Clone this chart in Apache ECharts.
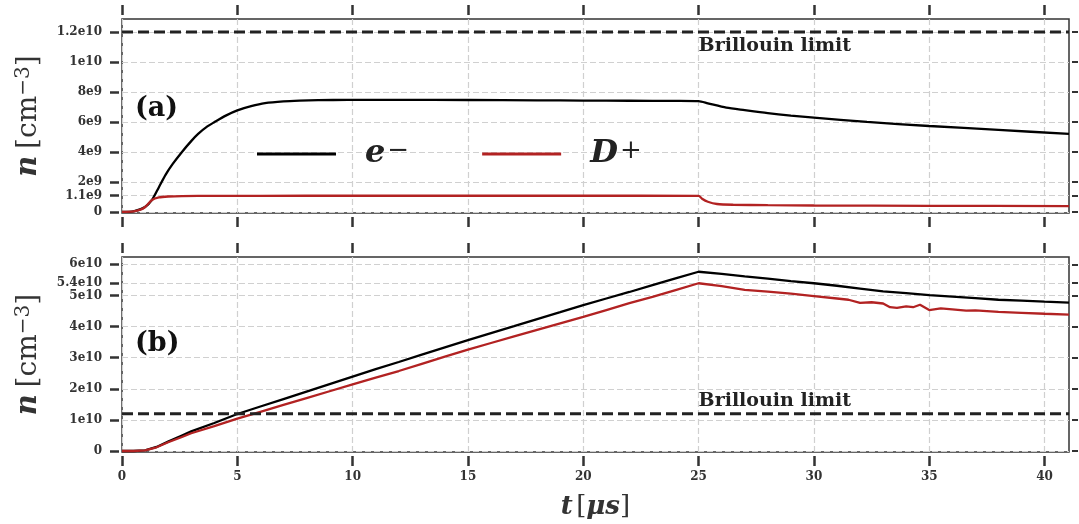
<!DOCTYPE html>
<html>
<head>
<meta charset="utf-8">
<script src="https://cdn.jsdelivr.net/npm/echarts@6/dist/echarts.min.js"></script>
<style>
html, body { margin: 0; padding: 0; background: #fff; }
#main { width: 1079px; height: 524px; }
</style>
</head>
<body>
<div id="main"></div>
<script>
// time axis [us]
var xTicks = [0, 5, 10, 15, 20, 25, 30, 35, 40];
var xMax = 41.06;

// panel (a) densities, unit 1e9 cm^-3
var aTickVals = [0, 1.1, 2, 4, 6, 8, 10, 12];
var aTickLabels = ["0", "1.1e9", "2e9", "4e9", "6e9", "8e9", "1e10", "1.2e10"];
var aBrillouin = 12;
var aElecTime = [0, 0.5, 1.0, 1.3, 1.6, 1.9, 2.2, 2.6, 3.0, 3.3, 3.7, 4.0, 4.5, 5.0, 5.6, 6.2, 7.0, 7.7, 8.5, 9.8,
  12, 15, 18, 20, 22, 24, 25, 25.4, 26.2, 27, 28, 29, 30, 32.3, 35, 38, 41.06];
var aElec = [0, 0.04, 0.33, 0.8, 1.65, 2.5, 3.2, 4.0, 4.72, 5.2, 5.7, 5.98, 6.42, 6.77, 7.05, 7.25, 7.37, 7.42, 7.45, 7.47,
  7.47, 7.46, 7.44, 7.42, 7.41, 7.4, 7.38, 7.24, 6.95, 6.78, 6.58, 6.42, 6.29, 6.0, 5.73, 5.47, 5.2];
var aIonTime = [0, 0.5, 0.8, 1.0, 1.3, 1.6, 2.0, 2.6, 4, 8, 12, 16, 20, 25, 25.15, 25.4, 25.8, 26.5, 28, 30, 35, 41.06];
var aIon = [0, 0.04, 0.15, 0.33, 0.8, 0.97, 1.03, 1.06, 1.07, 1.08, 1.08, 1.08, 1.08, 1.07, 0.88, 0.68, 0.53, 0.48, 0.45, 0.43, 0.41, 0.39];

// panel (b) densities, unit 1e10 cm^-3
var bTickVals = [0, 1, 2, 3, 4, 5, 5.4, 6];
var bTickLabels = ["0", "1e10", "2e10", "3e10", "4e10", "5e10", "5.4e10", "6e10"];
var bBrillouin = 1.2;
var bElecTime = [0, 0.5, 1, 1.5, 2, 2.6, 3, 4, 5, 6, 7, 8, 9, 10, 11, 12, 13, 14, 15, 16, 17, 18, 19, 20, 21, 22, 23, 24, 25,
  26, 27, 28, 29, 30, 31, 32, 33, 34, 35, 36, 37, 38, 39, 40, 41.06];
var bElec = [0, 0, 0.02, 0.13, 0.3, 0.5, 0.63, 0.9, 1.19, 1.43, 1.67, 1.91, 2.15, 2.39, 2.63, 2.86, 3.1, 3.33, 3.56, 3.79,
  4.01, 4.24, 4.46, 4.69, 4.9, 5.11, 5.33, 5.55, 5.76,
  5.69, 5.61, 5.54, 5.46, 5.39, 5.31, 5.22, 5.13, 5.07, 5.01, 4.96, 4.91, 4.86, 4.83, 4.8, 4.77];
var bIonTime = [0, 0.5, 1, 1.5, 2, 2.6, 3, 4, 5, 6, 7, 8, 9, 10, 11, 12, 13, 14, 15, 16, 17, 18, 19, 20, 21, 22, 23, 24, 25,
  26, 27, 28, 29, 30, 31, 31.5, 32, 32.5, 33, 33.3, 33.6, 34, 34.3, 34.6, 35, 35.5, 36, 36.6, 37, 38, 39, 40, 41.06];
var bIon = [0, 0, 0.02, 0.12, 0.28, 0.45, 0.57, 0.8, 1.04, 1.26, 1.48, 1.7, 1.92, 2.14, 2.36, 2.57, 2.8, 3.03, 3.26, 3.47,
  3.68, 3.89, 4.1, 4.31, 4.53, 4.75, 4.95, 5.17, 5.39,
  5.3, 5.18, 5.12, 5.06, 4.98, 4.9, 4.86, 4.76, 4.78, 4.74, 4.62, 4.6, 4.65, 4.62, 4.7, 4.53, 4.58, 4.55, 4.51, 4.52,
  4.47, 4.44, 4.41, 4.38];

var serif = "DejaVu Serif";
var dark = "#333";
var elecColor = "#000000";
var ionColor = "#b22222";

function pairs(ts, vs) {
  return ts.map(function (t, i) { return [t, vs[i]]; });
}

function xAxisFor(gridIndex, pos, withLabels) {
  return {
    type: "value", gridIndex: gridIndex, position: pos, min: 0, max: xMax, offset: 4,
    axisLine: { show: false, onZero: false },
    axisTick: { show: true, customValues: xTicks, length: 10, lineStyle: { color: dark, width: 2.5 } },
    axisLabel: {
      show: withLabels, customValues: xTicks, margin: 15, color: dark,
      fontFamily: serif, fontWeight: "bold", fontSize: 12
    },
    splitLine: pos === "bottom" ? { show: true, lineStyle: { color: "#d0d0d0", type: [6, 3], width: 1.2 } } : { show: false }
  };
}

var yName = "{n|n}  {b|[cm}{s|−3}{b|]}";
var yNameRich = {
  n: { fontFamily: serif, fontStyle: "italic", fontWeight: "bold", fontSize: 29, color: dark },
  b: { fontFamily: serif, fontSize: 28, color: dark },
  s: { fontFamily: serif, fontSize: 20, color: dark, verticalAlign: "top" }
};

function yAxisFor(gridIndex, min, max, vals, labels) {
  return {
    type: "value", gridIndex: gridIndex, min: min, max: max, offset: 3,
    name: yName, nameLocation: "middle", nameGap: 76, nameRotate: 90,
    nameTextStyle: { rich: yNameRich },
    axisLine: { show: false, onZero: false },
    axisTick: { show: true, customValues: vals, length: 9, lineStyle: { color: dark, width: 2.5 } },
    axisLabel: {
      customValues: vals, margin: 17, color: dark, fontFamily: serif, fontWeight: "bold", fontSize: 12,
      formatter: function (v) {
        var i = vals.indexOf(v);
        return i >= 0 ? labels[i] : "";
      }
    },
    splitLine: { show: false }
  };
}

function yRightFor(gridIndex, min, max, vals) {
  return {
    type: "value", gridIndex: gridIndex, position: "right", min: min, max: max, offset: 3,
    axisLine: { show: false, onZero: false },
    axisTick: { show: true, customValues: vals, length: 6, lineStyle: { color: dark, width: 2 } },
    axisLabel: { show: false },
    splitLine: { show: false }
  };
}

function gridLines(xi, yi, vals) {
  return {
    type: "line", xAxisIndex: xi, yAxisIndex: yi, data: [], silent: true, z: 1,
    markLine: {
      z: 1, silent: true, symbol: "none", animation: false, label: { show: false },
      lineStyle: { color: "#d0d0d0", type: [6, 3], width: 1.2 },
      data: vals.map(function (v) { return { yAxis: v }; })
    }
  };
}

function brillouin(xi, yi, v, labelDy) {
  return {
    type: "line", xAxisIndex: xi, yAxisIndex: yi, z: 5, silent: true,
    data: [[0, v], [xMax, v]], showSymbol: false,
    lineStyle: { color: "#222", width: 3, type: [11, 5] },
    markPoint: {
      symbol: "circle", symbolSize: 0, silent: true,
      label: {
        show: true, position: "right", distance: 0, offset: [0, labelDy],
        formatter: "Brillouin limit", fontFamily: serif, fontWeight: "bold", fontSize: 19, color: "#222"
      },
      data: [{ coord: [25, v] }]
    }
  };
}

function dataLine(name, xi, yi, ts, vs, color, smooth) {
  return {
    name: name, type: "line", xAxisIndex: xi, yAxisIndex: yi, z: 3,
    data: pairs(ts, vs), showSymbol: false,
    smooth: smooth,
    itemStyle: { color: color },
    lineStyle: { color: color, width: 2.3 }
  };
}

var legendRich = {
  g: { width: 24 },
  i: { fontFamily: serif, fontStyle: "italic", fontWeight: "bold", fontSize: 32, color: "#222" },
  s: { fontFamily: serif, fontSize: 26, color: "#222", verticalAlign: "top", padding: [0, 0, 0, 2] }
};

var option = {
  animation: false,
  backgroundColor: "#fff",
  title: [
    { text: "(a)", left: 135, top: 95, padding: 0,
      textStyle: { fontFamily: serif, fontWeight: "bold", fontSize: 27, color: "#111" } },
    { text: "(b)", left: 135, top: 330, padding: 0,
      textStyle: { fontFamily: serif, fontWeight: "bold", fontSize: 27, color: "#111" } }
  ],
  legend: {
    data: ["e-", "D+"], left: 252, top: 133, icon: "rect", itemWidth: 79, itemHeight: 3, itemGap: 73,
    formatter: function (name) {
      return name === "e-" ? "{g|}{i|e}{s|−}" : "{g|}{i|D}{s|+}";
    },
    textStyle: { rich: legendRich }
  },
  grid: [
    { left: 122, right: 10, top: 19, height: 194, show: true, borderColor: dark, borderWidth: 1.5, backgroundColor: "transparent" },
    { left: 122, right: 10, top: 257, height: 195, show: true, borderColor: dark, borderWidth: 1.5, backgroundColor: "transparent" }
  ],
  xAxis: [
    xAxisFor(0, "bottom", false),
    xAxisFor(0, "top", false),
    Object.assign(xAxisFor(1, "bottom", true), {
      name: "{t|t} {r|[}{t|μs}{r|]}", nameLocation: "middle", nameGap: 38,
      nameTextStyle: { rich: {
        t: { fontFamily: serif, fontStyle: "italic", fontWeight: "bold", fontSize: 26, color: dark },
        r: { fontFamily: serif, fontSize: 26, color: dark }
      } }
    }),
    xAxisFor(1, "top", false)
  ],
  yAxis: [
    yAxisFor(0, -0.07, 12.86, aTickVals, aTickLabels),
    yRightFor(0, -0.07, 12.86, aTickVals),
    yAxisFor(1, -0.032, 6.234, bTickVals, bTickLabels),
    yRightFor(1, -0.032, 6.234, bTickVals)
  ],
  series: [
    gridLines(0, 0, aTickVals),
    gridLines(2, 2, bTickVals),
    dataLine("e-", 0, 0, aElecTime, aElec, elecColor, 0.25),
    dataLine("D+", 0, 0, aIonTime, aIon, ionColor, 0.25),
    dataLine("e-", 2, 2, bElecTime, bElec, elecColor, false),
    dataLine("D+", 2, 2, bIonTime, bIon, ionColor, false),
    brillouin(0, 0, aBrillouin, 14),
    brillouin(2, 2, bBrillouin, -13)
  ]
};

var chart = echarts.init(document.getElementById("main"), null, { renderer: "canvas" });
chart.setOption(option);
window.addEventListener("resize", chart.resize);
</script>
</body>
</html>
